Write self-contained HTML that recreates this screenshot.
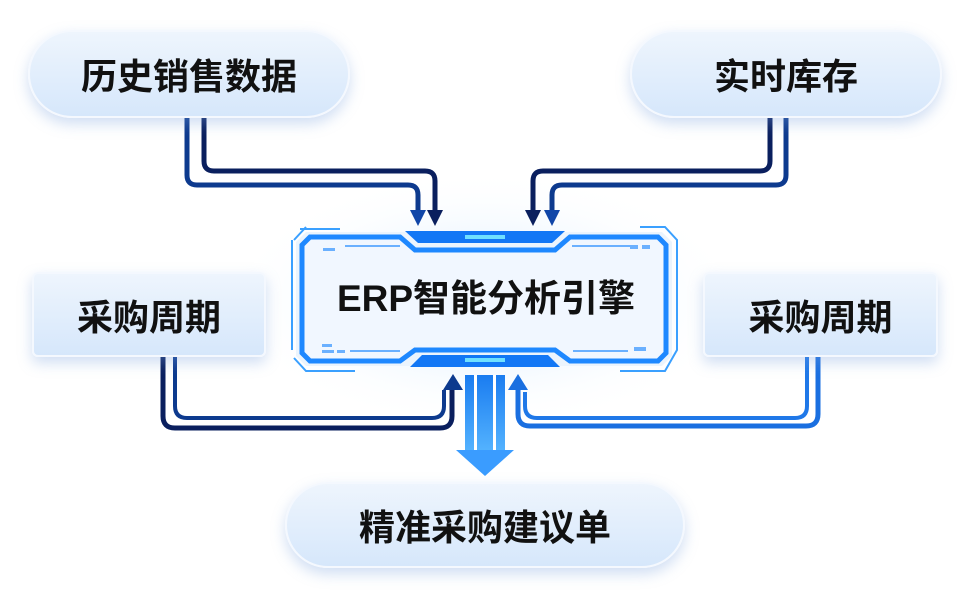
<!DOCTYPE html>
<html><head><meta charset="utf-8"><style>
html,body{margin:0;padding:0;background:#fff;}
body{width:968px;height:600px;position:relative;overflow:hidden;font-family:"Liberation Sans","Noto Sans CJK SC",sans-serif;}
.n{position:absolute;display:flex;align-items:center;justify-content:center;font-weight:bold;color:#111;font-size:36px;box-sizing:border-box;
background:linear-gradient(180deg,#eef5fd 0%,#d6e7fb 100%);border:2px solid #f4f8fe;box-shadow:0 6px 14px rgba(120,160,220,0.35);}
.pill{border-radius:46px;}
.box{border-radius:6px;}
svg{position:absolute;left:0;top:0;}
</style></head><body>
<svg width="968" height="600" viewBox="0 0 968 600">
<defs>
<radialGradient id="glow" cx="50%" cy="50%" r="50%"><stop offset="0" stop-color="#bfe0ff" stop-opacity="0.8"/><stop offset="1" stop-color="#fff" stop-opacity="0"/></radialGradient>
<linearGradient id="dn" x1="0" y1="0" x2="0" y2="1"><stop offset="0" stop-color="#1a7cf0"/><stop offset="1" stop-color="#55b4ff"/></linearGradient>
</defs>
<ellipse cx="485" cy="300" rx="260" ry="130" fill="url(#glow)"/>
<g fill="none" stroke-width="5" stroke-linejoin="round">
<path d="M187 118 V175 Q187 185 197 185 H408 Q418 185 418 195 V212" stroke="#0d3a8e"/>
<path d="M204 118 V161 Q204 171 214 171 H425 Q435 171 435 181 V212" stroke="#0a1f5e"/>
<path d="M770 118 V161 Q770 171 760 171 H543 Q533 171 533 181 V212" stroke="#0a1f5e"/>
<path d="M786 118 V175 Q786 185 776 185 H562 Q552 185 552 195 V212" stroke="#0d3a8e"/>
<path d="M163 357 V416 Q163 428 175 428 H440 Q452 428 452 416 V388" stroke="#0a1f5e"/>
<path d="M175 357 V406 Q175 418 187 418 H432 Q444 418 444 406 V390" stroke="#0d3a8e" stroke-width="4"/>
<path d="M818 357 V414 Q818 426 806 426 H530 Q518 426 518 414 V388" stroke="#1a6fe0"/>
<path d="M807 357 V406 Q807 418 795 418 H537 Q525 418 525 406 V392" stroke="#1f78e8" stroke-width="4"/>
</g>
<g>
<polygon points="410,210 426,210 418,226" fill="#1146a8"/>
<polygon points="427,210 443,210 435,226" fill="#0a1f5e"/>
<polygon points="525,210 541,210 533,226" fill="#0a1f5e"/>
<polygon points="544,210 560,210 552,226" fill="#1146a8"/>
<polygon points="443,390 463,390 453,374" fill="#0d3a8e"/>
<polygon points="508,390 528,390 518,374" fill="#1a6fe0"/>
</g>
<g>
<rect x="465" y="375" width="40" height="78" fill="url(#dn)"/>
<rect x="474" y="375" width="3" height="78" fill="#fff"/>
<rect x="493" y="375" width="3" height="78" fill="#fff"/>
<polygon points="456,450 514,450 485,476" fill="#3a9cff"/>
</g>
<path d="M306 232 H662 L672 242 V356 L662 366 H306 L296 356 V242 Z" fill="#eaf3fd" opacity="0.95"/>
<path d="M310 237 H400 L415 250 H555 L570 237 H658 L666 245 V353 L658 361 H570 L555 350 H415 L400 361 H310 L302 353 V245 Z" fill="#f1f7ff" stroke="#1e88ff" stroke-width="5"/>
<path d="M300 229 H340 M294 240 L306 227 M292 240 V350 M294 358 L306 371 H355 M640 227 H665 L677 240 V350 L665 371 H620" fill="none" stroke="#3aa0ff" stroke-width="2"/>
<polygon points="405,231 565,231 552,243 418,243" fill="#1277f5"/>
<rect x="465" y="235" width="40" height="4" fill="#6fe0ff"/>
<polygon points="410,367 560,367 548,355 422,355" fill="#1277f5"/>
<rect x="465" y="358" width="40" height="4" fill="#6fe0ff"/>
<g fill="#6ab0ff"><rect x="323" y="248" width="12" height="3"/><rect x="345" y="245" width="55" height="2"/><rect x="572" y="245" width="60" height="2"/><rect x="630" y="245" width="8" height="4"/><rect x="642" y="245" width="8" height="4"/>
<rect x="322" y="344" width="10" height="3"/><rect x="322" y="350" width="12" height="3"/><rect x="337" y="350" width="8" height="3"/><rect x="350" y="350" width="50" height="2"/><rect x="573" y="350" width="55" height="2"/><rect x="634" y="347" width="12" height="4"/></g>
<text x="486" y="311" text-anchor="middle" font-family="Liberation Sans,Noto Sans CJK SC,sans-serif" font-weight="bold" font-size="37" fill="#111">ERP智能分析引擎</text>
</svg>
<div class="n pill" style="left:28px;top:30px;width:322px;height:88px;">历史销售数据</div>
<div class="n pill" style="left:630px;top:30px;width:312px;height:88px;">实时库存</div>
<div class="n box" style="left:32px;top:272px;width:234px;height:85px;">采购周期</div>
<div class="n box" style="left:703px;top:272px;width:235px;height:85px;">采购周期</div>
<div class="n pill" style="left:285px;top:482px;width:400px;height:86px;">精准采购建议单</div>
</body></html>
